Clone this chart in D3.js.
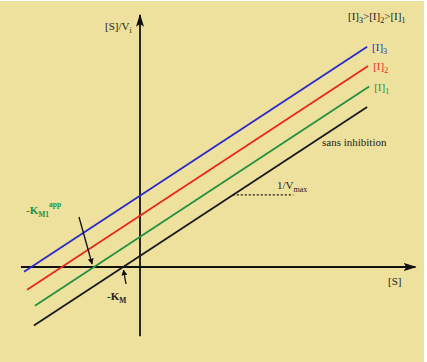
<!DOCTYPE html>
<html>
<head>
<meta charset="utf-8">
<script src="https://cdn.jsdelivr.net/npm/d3@7"></script>
<style>
  body { margin: 0; background: #fff; }
  svg text { font-family: "Liberation Serif", "DejaVu Serif", serif; }
</style>
</head>
<body>
<div id="chart"></div>
<script>
// Hanes-Woolf lines: [S]/Vi = [S]/Vmax + Km_app/Vmax (slope 1/Vmax = 1 in data units)
const seriesNames = ["sans inhibition", "[I]1", "[I]2", "[I]3"];
const kmApp = [0.5, 1.35, 2.3, 3.2];
const xStart = [-3.12, -3.09, -3.32, -3.41];
const xEnd = [6.68, 6.74, 6.71, 6.68];
const slope = 1;
const seriesColors = ["#1a1a1a", "#23913f", "#e8281e", "#2a2ac8"];

function init() {
    const width = 427;
    const height = 362;

    const svg = d3.select("#chart")
        .append("svg")
        .attr("width", width)
        .attr("height", height);

    svg.append("rect")
        .attr("width", 424).attr("height", height)
        .attr("y", 1)
        .attr("fill", "#ede19d");

    // scales: origin at (140, 267)
    const x = d3.scaleLinear().domain([0, 8]).range([140, 412]);
    const y = d3.scaleLinear().domain([0, 10]).range([267, 44]);

    const defs = svg.append("defs");
    defs.append("marker")
        .attr("id", "head")
        .attr("viewBox", "0 0 10 10")
        .attr("refX", 9).attr("refY", 5)
        .attr("markerWidth", 6).attr("markerHeight", 6)
        .attr("markerUnits", "userSpaceOnUse")
        .attr("orient", "auto")
        .append("path").attr("d", "M0,0 L10,5 L0,10 Z").attr("fill", "#111");
    defs.append("marker")
        .attr("id", "axhead")
        .attr("viewBox", "0 0 10 10")
        .attr("refX", 9).attr("refY", 5)
        .attr("markerWidth", 13).attr("markerHeight", 8)
        .attr("markerUnits", "userSpaceOnUse")
        .attr("orient", "auto")
        .attr("preserveAspectRatio", "none")
        .append("path").attr("d", "M0,0 L10,5 L0,10 L2,5 Z").attr("fill", "#111");

    // axes
    svg.append("line")
        .attr("x1", x(-3.5)).attr("x2", x(8.1))
        .attr("y1", y(0)).attr("y2", y(0))
        .attr("stroke", "#111").attr("stroke-width", 1.8)
        .attr("marker-end", "url(#axhead)");
    svg.append("line")
        .attr("x1", x(0)).attr("x2", x(0))
        .attr("y1", y(-3.1)).attr("y2", y(11.3))
        .attr("stroke", "#111").attr("stroke-width", 1.8)
        .attr("marker-end", "url(#axhead)");

    // lines
    const line = d3.line().x(d => x(d[0])).y(d => y(d[1]));
    seriesNames.forEach((name, i) => {
        const pts = [xStart[i], xEnd[i]].map(v => [v, slope * (v + kmApp[i])]);
        svg.append("path")
            .attr("d", line(pts))
            .attr("fill", "none")
            .attr("stroke", seriesColors[i])
            .attr("stroke-width", 1.8);
    });

    // 1/Vmax dotted segment
    const yd = 3.23;
    svg.append("line")
        .attr("x1", x(yd / slope - kmApp[0])).attr("x2", x(yd / slope - kmApp[0] + 1.78))
        .attr("y1", y(yd)).attr("y2", y(yd))
        .attr("stroke", "#111").attr("stroke-width", 1.2)
        .attr("stroke-dasharray", "2,2");

    // labels
    let t = svg.append("text").attr("x", 105).attr("y", 30).attr("font-size", 11).attr("fill", "#222");
    t.append("tspan").text("[S]/V");
    t.append("tspan").text("i").attr("font-size", 8).attr("dy", 3);

    svg.append("text").attr("x", 388).attr("y", 285)
        .attr("font-size", 11).attr("fill", "#222").text("[S]");

    t = svg.append("text").attr("x", 348).attr("y", 20).attr("font-size", 11).attr("fill", "#222");
    t.append("tspan").text("[I]");
    t.append("tspan").text("3").attr("font-size", 8).attr("dy", 3);
    t.append("tspan").text(">[I]").attr("dy", -3);
    t.append("tspan").text("2").attr("font-size", 8).attr("dy", 3);
    t.append("tspan").text(">[I]").attr("dy", -3);
    t.append("tspan").text("1").attr("font-size", 8).attr("dy", 3);

    [3, 2, 1].forEach(i => {
        const tt = svg.append("text")
            .attr("x", x(xEnd[i]) + 5)
            .attr("y", y(slope * (xEnd[i] + kmApp[i])) + 4)
            .attr("font-size", 11)
            .attr("fill", seriesColors[i]);
        tt.append("tspan").text("[I]");
        tt.append("tspan").text(seriesNames[i].slice(3)).attr("font-size", 8).attr("dy", 3);
    });

    svg.append("text").attr("x", 322).attr("y", 146)
        .attr("font-size", 11).attr("fill", "#222").text(seriesNames[0]);

    t = svg.append("text").attr("x", 277).attr("y", 189).attr("font-size", 11).attr("fill", "#222");
    t.append("tspan").text("1/V");
    t.append("tspan").text("max").attr("font-size", 8).attr("dy", 3);

    t = svg.append("text").attr("x", 26).attr("y", 214)
        .attr("font-size", 11).attr("font-weight", "bold").attr("fill", "#23913f");
    t.append("tspan").text("-K");
    t.append("tspan").text("M1").attr("font-size", 7.5).attr("dy", 3);
    t.append("tspan").text("app").attr("font-size", 7.5).attr("dy", -10);

    t = svg.append("text").attr("x", 107).attr("y", 300)
        .attr("font-size", 11).attr("font-weight", "bold").attr("fill", "#222");
    t.append("tspan").text("-K");
    t.append("tspan").text("M").attr("font-size", 7.5).attr("dy", 3);

    // arrows to intercepts
    svg.append("line")
        .attr("x1", 79).attr("y1", 217)
        .attr("x2", x(-kmApp[1]) - 2).attr("y2", y(0) - 3)
        .attr("stroke", "#111").attr("stroke-width", 1.3)
        .attr("marker-end", "url(#head)");
    svg.append("line")
        .attr("x1", 126).attr("y1", 284)
        .attr("x2", x(-kmApp[0]) + 0.5).attr("y2", y(0) + 3)
        .attr("stroke", "#111").attr("stroke-width", 1.3)
        .attr("marker-end", "url(#head)");
}

window.onload = init;
</script>
</body>
</html>
